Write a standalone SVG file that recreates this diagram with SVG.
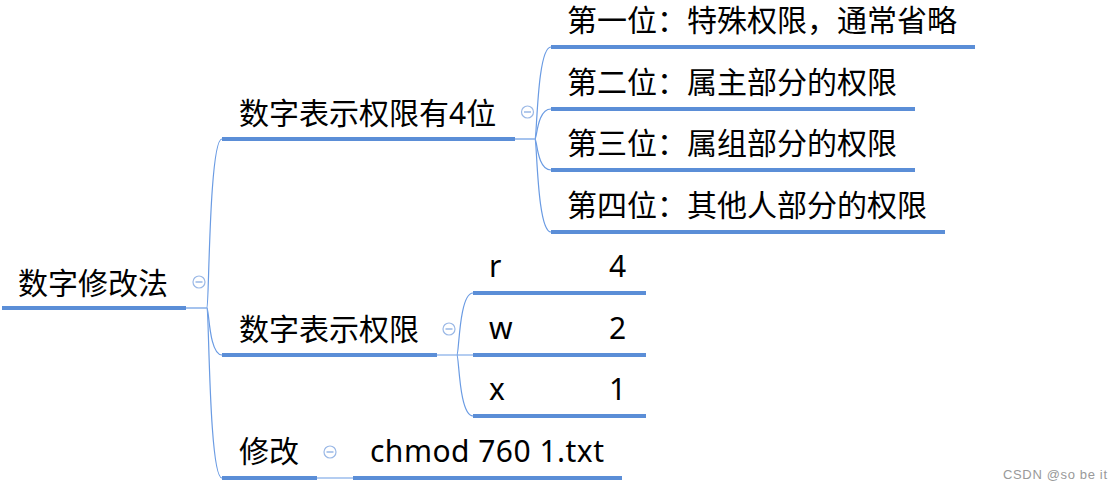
<svg xmlns="http://www.w3.org/2000/svg" width="1115" height="490" viewBox="0 0 1115 490">
<style>
.t{font-family:'Noto Sans','Noto Sans CJK SC',sans-serif;font-size:30px;fill:#000}
.u{stroke:#5b8ed7;stroke-width:4;fill:none}
.c{stroke:#6a9be3;stroke-width:1.2;fill:none}
.k{fill:#fff;stroke:#9ab8e6;stroke-width:1.2}
.m{stroke:#9ab8e6;stroke-width:1.5}
.w{font-family:'Liberation Sans',Arial,sans-serif;font-size:13px;fill:#999}
</style>
<rect width="1115" height="490" fill="#fff"/>
<g id="connectors">
<path class="c" d="M186,308 H207"/>
<path class="c" d="M207,308 C209,308 209,139 222,139"/>
<path class="c" d="M207,308 C209,308 209,355 222,355"/>
<path class="c" d="M207,308 C209,308 209,478 222,478"/>
<path class="c" d="M515,139 H535"/>
<path class="c" d="M535,139 C537,139 537,47 551,47"/>
<path class="c" d="M535,139 C537,139 537,109 551,109"/>
<path class="c" d="M535,139 C537,139 537,170 551,170"/>
<path class="c" d="M535,139 C537,139 537,232 551,232"/>
<path class="c" d="M437,355 H473"/>
<path class="c" d="M457,355 C459,355 459,293 473,293"/>
<path class="c" d="M457,355 C459,355 459,416 473,416"/>
<path class="c" d="M317,478 H353"/>
</g>
<g id="root">
<text class="t" x="18" y="294">数字修改法</text>
<path class="u" d="M2,308 H186"/>
<circle class="k" cx="199" cy="282" r="6"/><path class="m" d="M195.5,282 H202.5"/>
</g>
<g id="n-4wei">
<text class="t" x="239" y="124">数字表示权限有4位</text>
<path class="u" d="M222,139 H515"/>
<circle class="k" cx="527.5" cy="112" r="6"/><path class="m" d="M524,112 H531"/>
</g>
<g id="n-1">
<text class="t" x="567" y="31">第一位：特殊权限，通常省略</text>
<path class="u" d="M551,47 H975"/>
</g>
<g id="n-2">
<text class="t" x="567" y="93">第二位：属主部分的权限</text>
<path class="u" d="M551,109 H915"/>
</g>
<g id="n-3">
<text class="t" x="567" y="154">第三位：属组部分的权限</text>
<path class="u" d="M551,170 H915"/>
</g>
<g id="n-4">
<text class="t" x="567" y="216">第四位：其他人部分的权限</text>
<path class="u" d="M551,232 H945"/>
</g>
<g id="n-repr">
<text class="t" x="239" y="340">数字表示权限</text>
<path class="u" d="M222,355 H437"/>
<circle class="k" cx="449" cy="329" r="6"/><path class="m" d="M445.5,329 H452.5"/>
</g>
<g id="n-r">
<text class="t" x="489" y="277">r</text><text class="t" x="609" y="277">4</text>
<path class="u" d="M473,293 H646"/>
</g>
<g id="n-w">
<text class="t" x="489" y="339">w</text><text class="t" x="609" y="339">2</text>
<path class="u" d="M473,355 H646"/>
</g>
<g id="n-x">
<text class="t" x="489" y="400">x</text><text class="t" x="609" y="400">1</text>
<path class="u" d="M473,416 H646"/>
</g>
<g id="n-modify">
<text class="t" x="239" y="462">修改</text>
<path class="u" d="M222,478 H317"/>
<circle class="k" cx="330" cy="452" r="6"/><path class="m" d="M326.5,452 H333.5"/>
</g>
<g id="n-chmod">
<text class="t" x="370" y="462" textLength="234">chmod 760 1.txt</text>
<path class="u" d="M353,478 H622"/>
</g>
<text class="w" x="1003" y="479" textLength="104">CSDN @so be it</text>
</svg>
